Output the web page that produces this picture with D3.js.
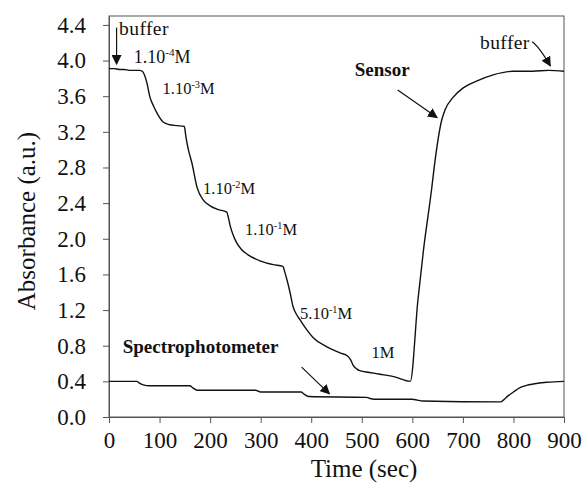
<!DOCTYPE html>
<html>
<head>
<meta charset="utf-8">
<script src="https://cdn.jsdelivr.net/npm/d3@7"></script>
</head>
<body style="margin:0; background:#fff">
<div id="chart"></div>
<script>
// Frame size and margins
const FRAME_WIDTH = 587;
const FRAME_HEIGHT = 491;
const MARGINS = {left: 109, right: 23, top: 16, bottom: 74};
const VIS_WIDTH = FRAME_WIDTH - MARGINS.left - MARGINS.right;
const VIS_HEIGHT = FRAME_HEIGHT - MARGINS.top - MARGINS.bottom;
const FONT = "Liberation Serif";

// Sensor trace
const sensorTime = [0, 10, 20, 30, 40, 50, 60, 66, 70, 75, 81, 88, 95, 107, 120, 135, 149,
  152, 157, 164, 174, 187, 200, 215, 233, 236, 240, 245, 252, 262, 275, 300, 325, 344,
  348, 352, 358, 364, 371, 378, 391, 404, 430, 457, 473, 478, 483, 490, 496, 515, 536, 565, 596,
  611, 622, 638, 645, 658, 665, 681, 700, 727, 760, 799, 838, 870, 900];
const sensorAbs = [3.91, 3.91, 3.90, 3.90, 3.89, 3.89, 3.89, 3.88, 3.84, 3.75, 3.59, 3.49, 3.41, 3.31, 3.28, 3.27, 3.26,
  3.15, 3.00, 2.85, 2.58, 2.43, 2.37, 2.33, 2.30, 2.24, 2.14, 2.05, 1.96, 1.88, 1.82, 1.75, 1.71, 1.69,
  1.62, 1.54, 1.40, 1.24, 1.15, 1.09, 0.98, 0.89, 0.79, 0.72, 0.68, 0.64, 0.58, 0.54, 0.52, 0.50, 0.48, 0.45, 0.40,
  1.31, 1.87, 2.55, 2.88, 3.33, 3.45, 3.59, 3.69, 3.77, 3.84, 3.88, 3.88, 3.89, 3.88];

// Spectrophotometer trace
const spectroTime = [0, 55, 60, 68, 80, 160, 165, 175, 290, 300, 380, 385, 395, 510, 515, 525,
  600, 610, 620, 775, 780, 790, 800, 813, 826, 839, 866, 900];
const spectroAbs = [0.40, 0.40, 0.38, 0.36, 0.35, 0.35, 0.33, 0.30, 0.30, 0.28, 0.28, 0.26, 0.23, 0.22, 0.21, 0.20,
  0.20, 0.19, 0.18, 0.17, 0.19, 0.24, 0.28, 0.33, 0.355, 0.37, 0.39, 0.40];

// Ticks
const xTicks = [0, 100, 200, 300, 400, 500, 600, 700, 800, 900];
const yTicks = [0.0, 0.4, 0.8, 1.2, 1.6, 2.0, 2.4, 2.8, 3.2, 3.6, 4.0, 4.4];

// Concentration labels: [time, absorbance, mantissa, exponent, font size]
const concLabels = [
  [49, 3.97, "1.10", "-4", 18],
  [106, 3.62, "1.10", "-3", 16.5],
  [186, 2.50, "1.10", "-2", 16.5],
  [269, 2.04, "1.10", "-1", 16.5],
  [378, 1.10, "5.10", "-1", 16.5],
  [519, 0.66, "1M", null, 16.5]
];

const svg = d3.select("#chart")
  .append("svg")
    .attr("width", FRAME_WIDTH)
    .attr("height", FRAME_HEIGHT)
    .attr("font-family", FONT);

const xScale = d3.scaleLinear().domain([0, 900]).range([0, VIS_WIDTH]);
const yScale = d3.scaleLinear().domain([0, 4.5]).range([VIS_HEIGHT, 0]);

const g = svg.append("g")
  .attr("transform", "translate(" + MARGINS.left + "," + MARGINS.top + ")");

// frame
g.append("rect")
  .attr("width", VIS_WIDTH)
  .attr("height", VIS_HEIGHT)
  .attr("fill", "none")
  .attr("stroke", "#555")
  .attr("stroke-width", 1);

// axes
const xAxis = g.append("g")
  .attr("transform", "translate(0," + VIS_HEIGHT + ")")
  .call(d3.axisBottom(xScale).tickValues(xTicks).tickSize(6).tickPadding(9).tickSizeOuter(0));
const yAxis = g.append("g")
  .call(d3.axisLeft(yScale).tickValues(yTicks).tickFormat(d3.format(".1f")).tickSize(6).tickPadding(17).tickSizeOuter(0));

[xAxis, yAxis].forEach(a => {
  a.attr("font-family", FONT).attr("font-size", 23);
  a.select(".domain").attr("stroke", "#555");
  a.selectAll(".tick line").attr("stroke", "#555");
  a.selectAll("text").attr("fill", "#111");
});

// traces
const line = d3.line()
  .x(d => xScale(d[0]))
  .y(d => yScale(d[1]))
  .curve(d3.curveMonotoneX);

g.append("path")
  .datum(d3.zip(sensorTime, sensorAbs))
  .attr("fill", "none")
  .attr("stroke", "#111")
  .attr("stroke-width", 1.4)
  .attr("d", line);

g.append("path")
  .datum(d3.zip(spectroTime, spectroAbs))
  .attr("fill", "none")
  .attr("stroke", "#111")
  .attr("stroke-width", 1.4)
  .attr("d", line);

// arrowhead marker
svg.append("defs").append("marker")
  .attr("id", "arrow")
  .attr("viewBox", "0 0 10 10")
  .attr("refX", 9).attr("refY", 5)
  .attr("markerWidth", 10).attr("markerHeight", 10)
  .attr("markerUnits", "userSpaceOnUse")
  .attr("orient", "auto")
  .append("path")
    .attr("d", "M0,0 L10,5 L0,10 Z")
    .attr("fill", "#111");

// concentration labels
concLabels.forEach(c => {
  const t = g.append("text")
    .attr("x", xScale(c[0]))
    .attr("y", yScale(c[1]))
    .attr("font-size", c[4])
    .attr("fill", "#111");
  t.append("tspan").text(c[2]);
  if (c[3]) {
    t.append("tspan").attr("dy", -c[4] * 0.38).attr("font-size", c[4] * 0.62).text(c[3]);
    t.append("tspan").attr("dy", c[4] * 0.38).text("M");
  }
});

// buffer annotations
g.append("text")
  .attr("x", xScale(20)).attr("y", yScale(4.29))
  .attr("font-size", 19.5).attr("letter-spacing", 0.4).attr("fill", "#111")
  .text("buffer");
g.append("line")
  .attr("x1", xScale(15)).attr("y1", yScale(4.37))
  .attr("x2", xScale(15)).attr("y2", yScale(3.96))
  .attr("stroke", "#111").attr("stroke-width", 1.2)
  .attr("marker-end", "url(#arrow)");

g.append("text")
  .attr("x", xScale(734)).attr("y", yScale(4.13))
  .attr("font-size", 19.5).attr("letter-spacing", 0.4).attr("fill", "#111")
  .text("buffer");
g.append("path")
  .attr("d", "M" + xScale(837) + "," + yScale(4.21) + " Q" + xScale(850) + "," + yScale(4.16) + " " + xScale(873) + "," + yScale(3.94))
  .attr("fill", "none")
  .attr("stroke", "#111").attr("stroke-width", 1.2)
  .attr("marker-end", "url(#arrow)");

// Sensor annotation
g.append("text")
  .attr("x", xScale(486)).attr("y", yScale(3.83))
  .attr("font-size", 19).attr("font-weight", "bold").attr("fill", "#111")
  .text("Sensor");
g.append("line")
  .attr("x1", xScale(571)).attr("y1", yScale(3.67))
  .attr("x2", xScale(649)).attr("y2", yScale(3.36))
  .attr("stroke", "#111").attr("stroke-width", 1.2)
  .attr("marker-end", "url(#arrow)");

// Spectrophotometer annotation
g.append("text")
  .attr("x", xScale(27)).attr("y", yScale(0.72))
  .attr("font-size", 19).attr("font-weight", "bold").attr("fill", "#111")
  .text("Spectrophotometer");
g.append("line")
  .attr("x1", xScale(381)).attr("y1", yScale(0.56))
  .attr("x2", xScale(436)).attr("y2", yScale(0.26))
  .attr("stroke", "#111").attr("stroke-width", 1.2)
  .attr("marker-end", "url(#arrow)");

// axis titles
svg.append("text")
  .attr("x", 364)
  .attr("y", 477)
  .attr("text-anchor", "middle")
  .attr("font-size", 25).attr("fill", "#111")
  .text("Time (sec)");

svg.append("text")
  .attr("transform", "translate(35,221) rotate(-90)")
  .attr("text-anchor", "middle")
  .attr("font-size", 25).attr("fill", "#111")
  .text("Absorbance (a.u.)");
</script>
</body>
</html>
